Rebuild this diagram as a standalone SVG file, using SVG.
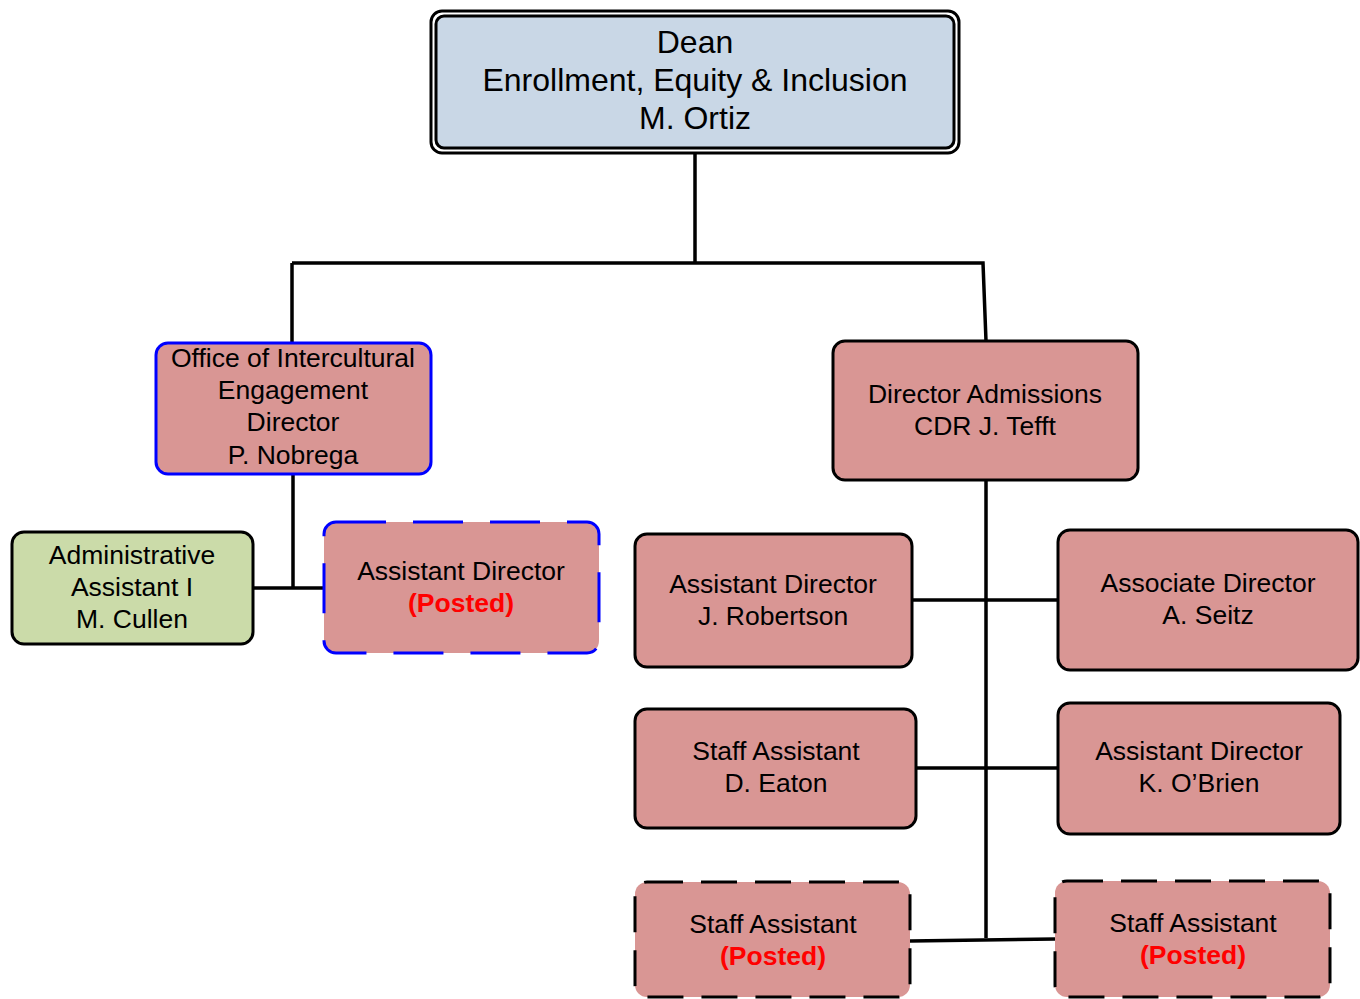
<svg xmlns="http://www.w3.org/2000/svg" width="1360" height="999" viewBox="0 0 1360 999">
<style>
text{font-family:"Liberation Sans",Arial,sans-serif;font-size:26.5px;fill:#000;text-anchor:middle}
.dean{font-size:32px}
.post{fill:#ff0000;font-weight:bold}
.box{fill:#d99694;stroke:#000;stroke-width:3}
.blue{stroke:#0000ff}
.bdash{stroke:#0000ff;stroke-dasharray:50 27}
.kdash{stroke-dasharray:36 18}
.green{fill:#cbdba9}
.conn{stroke:#000;stroke-width:3.5;fill:none}
</style>
<rect width="1360" height="999" fill="#fff"/>
<g id="connectors">
<path class="conn" d="M695 153V263M292 263H983L986 341M292 263V343"/>
<path class="conn" d="M293 474V588M253 588H324"/>
<path class="conn" d="M986 480V938M912 600H1058M916 768H1058M910 941L1055 939"/>
</g>
<g id="dean">
<rect x="431" y="11" width="528" height="142" rx="11" fill="#fff" stroke="#000" stroke-width="3"/>
<rect x="436" y="16" width="518" height="132" rx="8" fill="#c9d7e6" stroke="#000" stroke-width="3"/>
<text class="dean" x="695" y="53">Dean</text>
<text class="dean" x="695" y="91">Enrollment, Equity &amp; Inclusion</text>
<text class="dean" x="695" y="129">M. Ortiz</text>
</g>
<g id="oie">
<rect class="box blue" x="156" y="343" width="275" height="131" rx="12"/>
<text x="293" y="367">Office of Intercultural</text>
<text x="293" y="399">Engagement</text>
<text x="293" y="431">Director</text>
<text x="293" y="464">P. Nobrega</text>
</g>
<g id="admin">
<rect class="box green" x="12" y="532" width="241" height="112" rx="12"/>
<text x="132" y="564">Administrative</text>
<text x="132" y="596">Assistant I</text>
<text x="132" y="628">M. Cullen</text>
</g>
<g id="asstdir-posted">
<rect class="box bdash" x="324" y="522" width="275" height="131" rx="12"/>
<text x="461" y="580">Assistant Director</text>
<text class="post" x="461" y="612">(Posted)</text>
</g>
<g id="dir-admissions">
<rect class="box" x="833" y="341" width="305" height="139" rx="12"/>
<text x="985" y="403">Director Admissions</text>
<text x="985" y="435">CDR J. Tefft</text>
</g>
<g id="robertson">
<rect class="box" x="635" y="534" width="277" height="133" rx="12"/>
<text x="773" y="593">Assistant Director</text>
<text x="773" y="625">J. Robertson</text>
</g>
<g id="seitz">
<rect class="box" x="1058" y="530" width="300" height="140" rx="12"/>
<text x="1208" y="592">Associate Director</text>
<text x="1208" y="624">A. Seitz</text>
</g>
<g id="eaton">
<rect class="box" x="635" y="709" width="281" height="119" rx="12"/>
<text x="776" y="760">Staff Assistant</text>
<text x="776" y="792">D. Eaton</text>
</g>
<g id="obrien">
<rect class="box" x="1058" y="703" width="282" height="131" rx="12"/>
<text x="1199" y="760">Assistant Director</text>
<text x="1199" y="792">K. O’Brien</text>
</g>
<g id="staff-posted-1">
<rect class="box kdash" x="635" y="882" width="275" height="115" rx="12"/>
<text x="773" y="933">Staff Assistant</text>
<text class="post" x="773" y="965">(Posted)</text>
</g>
<g id="staff-posted-2">
<rect class="box kdash" x="1055" y="881" width="275" height="116" rx="12"/>
<text x="1193" y="932">Staff Assistant</text>
<text class="post" x="1193" y="964">(Posted)</text>
</g>
</svg>
